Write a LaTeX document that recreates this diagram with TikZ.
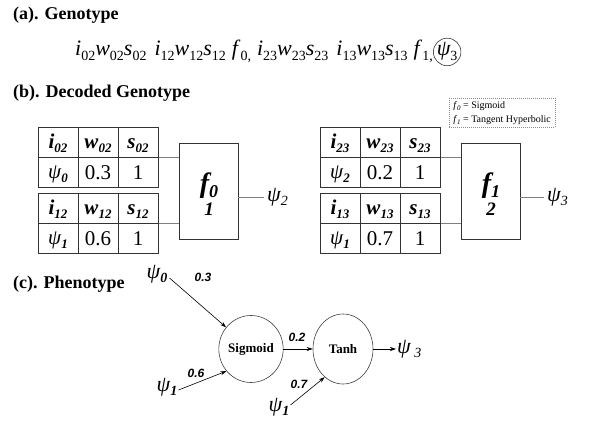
\documentclass[tikz,border=0pt]{standalone}
\usepackage{fontspec}
\setmainfont{Liberation Serif}
\newfontfamily\sansf{Liberation Sans}
\usetikzlibrary{arrows.meta,shapes.geometric}
\newcommand\fs[1]{\fontsize{#1}{#1}\selectfont}
\newcommand\gs[2]{\textit{#1}\raisebox{-5pt}{\fs{14}\upshape #2}}
\newcommand\bsub[2]{\textbf{\textit{#1}}\raisebox{-4pt}{\fs{13}\bfseries\itshape #2}}
\newcommand\psub[1]{{\itshape ψ}\raisebox{-4pt}{\fs{13}\bfseries\itshape #1}}
\newcommand\gtab[8]{%
  \node[tbl] (#1) at (#2,#3) {};
  \draw[tline] ({#2},{#3+30}) -- ({#2+120},{#3+30});
  \draw[tline] ({#2+40},{#3}) -- ({#2+40},{#3+60});
  \draw[tline] ({#2+80},{#3}) -- ({#2+80},{#3+60});
  \node[cell] (#1-i) at ({#2+20},{#3+22}) {\bsub{i}{#4}};
  \node[cell] (#1-w) at ({#2+60},{#3+22}) {\bsub{w}{#5}};
  \node[cell] (#1-s) at ({#2+100},{#3+22}) {\bsub{s}{#6}};
  \node[cell] (#1-p) at ({#2+20},{#3+52}) {\psub{#7}};
  \node[cell] (#1-v) at ({#2+60},{#3+53}) {#8};
  \node[cell] (#1-o) at ({#2+100},{#3+53}) {1};
}
\begin{document}
\begin{tikzpicture}[x=1pt,y=-1pt,
  title/.style={anchor=base west, inner sep=0, font=\fs{18}\bfseries},
  tbl/.style={draw=black!80, line width=0.7pt, minimum width=120pt, minimum height=60pt, inner sep=0, anchor=north west},
  tline/.style={draw=black!80, line width=0.7pt},
  cell/.style={anchor=base, inner sep=0, font=\fs{21}},
  fbox/.style={draw=black!80, line width=0.7pt, minimum width=59pt, minimum height=96pt, inner sep=0},
  conn/.style={draw=black!50, line width=0.8pt},
  neuron/.style={draw=black!75, ellipse, line width=0.6pt, inner sep=0, font=\fs{13}\bfseries},
  arr/.style={-{Stealth[length=6pt,width=4pt]}, line width=0.6pt},
  wlab/.style={font=\sansf\fs{12}\bfseries\itshape, inner sep=0},
  psil/.style={font=\fs{22}\itshape, inner sep=1pt}
]
\useasboundingbox (0,0) rectangle (590,430);

% titles
\node[title] (ta) at (13,20) {(a). Genotype};
\node[title] (tb) at (13,98) {(b). Decoded Genotype};
\node[title] (tc) at (13,289) {(c). Phenotype};

% genotype
\node[anchor=base west, inner sep=0, font=\fs{22}] (geno) at (75,56)
  {\gs{i}{02}\gs{w}{02}\gs{s}{02}\hspace{8pt}\gs{i}{12}\gs{w}{12}\gs{s}{12}\hspace{6pt}\gs{f}{0,}\hspace{6pt}\gs{i}{23}\gs{w}{23}\gs{s}{23}\hspace{8pt}\gs{i}{13}\gs{w}{13}\gs{s}{13}\hspace{6pt}\gs{f}{1,}};
\node[draw=black!80, circle, line width=0.6pt, inner sep=0pt, anchor=base west, font=\fs{22}\itshape] (g3) at (geno.base east) {ψ\raisebox{-5pt}{\fs{14}\upshape 3}};

% decoded genotype
\gtab{t1}{38}{127}{02}{02}{02}{0}{0.3}
\gtab{t2}{38}{193}{12}{12}{12}{1}{0.6}
\gtab{t3}{320}{127}{23}{23}{23}{2}{0.2}
\gtab{t4}{320}{193}{13}{13}{13}{1}{0.7}

\node[fbox] (b1) at (208.5,191) {};
\node[fbox] (b2) at (490.5,191) {};
\node[inner sep=0, font=\fs{28}\bfseries\itshape] (b1f) at (209,186) {f\raisebox{-5pt}{\fs{18}0}};
\node[inner sep=0, font=\fs{19}\bfseries\itshape] (b1n) at (209,209) {1};
\node[inner sep=0, font=\fs{28}\bfseries\itshape] (b2f) at (491,186) {f\raisebox{-5pt}{\fs{18}1}};
\node[inner sep=0, font=\fs{19}\bfseries\itshape] (b2n) at (491,209) {2};

\node[psil, anchor=west] (p2) at (266,197) {ψ\raisebox{-4pt}{\fs{14}2}};
\node[psil, anchor=west] (p3b) at (546,197) {ψ\raisebox{-4pt}{\fs{14}3}};

\draw[conn] (t1.east) -- (t1.east -| b1.west);
\draw[conn] (t2.east) -- (t2.east -| b1.west);
\draw[conn] (t3.east) -- (t3.east -| b2.west);
\draw[conn] (t4.east) -- (t4.east -| b2.west);
\draw[conn] (b1.east |- p2.west) -- ([xshift=-2pt]p2.west);
\draw[conn] (b2.east |- p3b.west) -- ([xshift=-2pt]p3b.west);

\node[draw=black!45, dash pattern=on 1pt off 1pt, line width=0.5pt, anchor=north west, align=left,
  inner xsep=4pt, inner ysep=3pt, font={\fontsize{10}{14}\selectfont}] (leg) at (449,98)
  {\textit{f}\raisebox{-2pt}{\fs{7}\itshape 0} = Sigmoid\\\textit{f}\raisebox{-2pt}{\fs{7}\itshape 1} = Tangent Hyperbolic};

% phenotype
\node[neuron, minimum width=57pt, minimum height=67pt] (sig) at (251,349) {Sigmoid};
\node[neuron, minimum width=60pt, minimum height=70pt] (tanh) at (343,349) {Tanh};
\node[psil] (p0) at (157,274) {ψ\raisebox{-4pt}{\fs{14}\bfseries 0}};
\node[psil] (p1) at (167,387) {ψ\raisebox{-4pt}{\fs{14}\bfseries 1}};
\node[psil] (p1b) at (279,407) {ψ\raisebox{-4pt}{\fs{14}\bfseries 1}};
\node[psil, anchor=west] (p3) at (396,349) {ψ\raisebox{-4pt}{\fs{14} 3}};

\draw[arr] ([xshift=1pt,yshift=-4pt]p0.east) -- (sig);
\draw[arr] ([yshift=-3pt]p1.east) -- (sig.222);
\draw[arr] (sig) -- (tanh);
\draw[arr] (tanh) -- (p3);
\draw[arr] ([yshift=2pt]p1b.east) -- (tanh.237);

\node[wlab] (l03) at (203,277) {0.3};
\node[wlab] (l06) at (196,373) {0.6};
\node[wlab] (l02) at (297,337) {0.2};
\node[wlab] (l07) at (299,384) {0.7};
\end{tikzpicture}
\end{document}
